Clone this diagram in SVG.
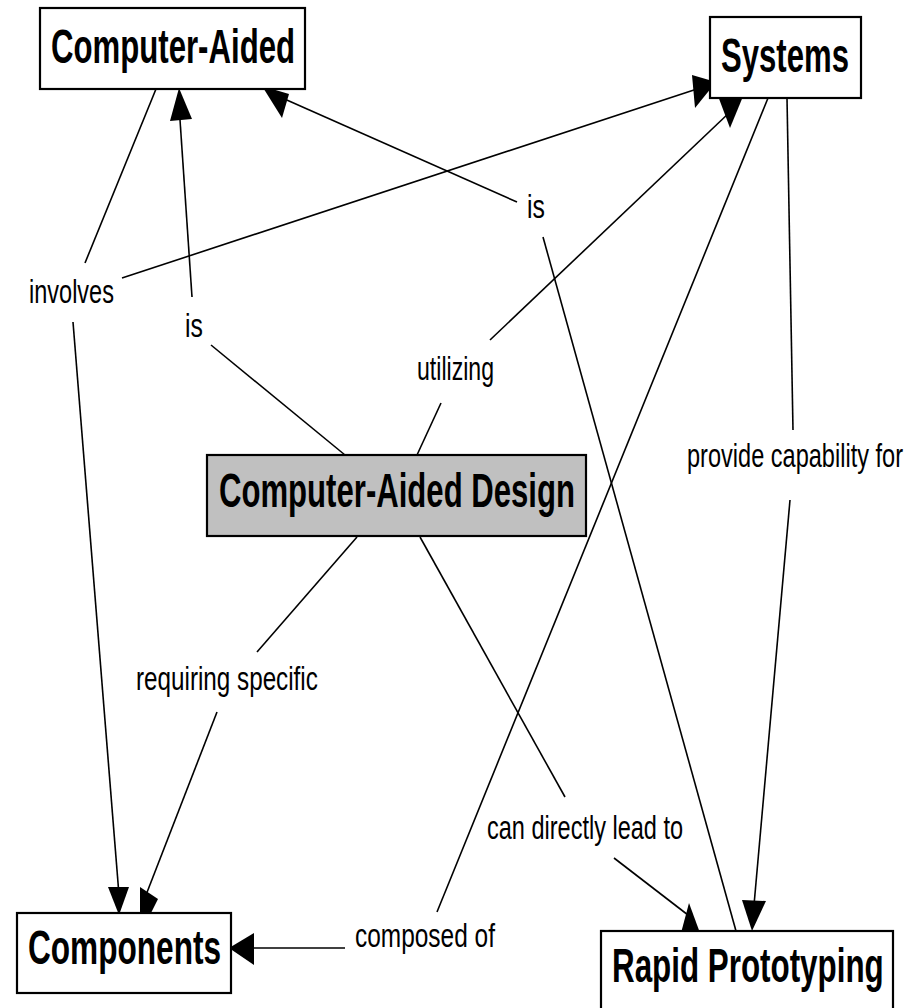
<svg xmlns="http://www.w3.org/2000/svg" width="913" height="1008" viewBox="0 0 913 1008">
<style>
.ln{stroke:#000;stroke-width:1.6;fill:none}
.ah{fill:#000;stroke:none}
.box{fill:#fff;stroke:#000;stroke-width:2.2}
.main{fill:#c0c0c0}
.cn{font-family:"Liberation Sans",Arial,sans-serif;font-weight:bold;font-size:49px;fill:#000}
.lp{font-family:"Liberation Sans",Arial,sans-serif;font-size:33px;fill:#000}
</style>
<rect width="913" height="1008" fill="#fff"/>

<!-- links, drawn under the concept boxes so arrow tips tuck beneath them -->
<g id="connectors">
  <path class="ln" d="M156,89 L85,263"/>
  <path class="ln" d="M73,322 L119,895"/>
  <path class="ln" d="M122,278 L700,88"/>
  <path class="ln" d="M345,455 L211,345"/>
  <path class="ln" d="M192,297 L179,105"/>
  <path class="ln" d="M417,455 L441,403"/>
  <path class="ln" d="M490,340 L730,112"/>
  <path class="ln" d="M357,537 L257,652"/>
  <path class="ln" d="M217,712 L146,895"/>
  <path class="ln" d="M420,537 L565,797"/>
  <path class="ln" d="M614,858 L688,915"/>
  <path class="ln" d="M736,931 L543,237"/>
  <path class="ln" d="M517,202 L280,97"/>
  <path class="ln" d="M787,98 L793,430"/>
  <path class="ln" d="M790,500 L754,905"/>
  <path class="ln" d="M768,98 L437,912"/>
  <path class="ln" d="M345,948 L250,948"/>
  <!-- arrowheads -->
  <polygon class="ah" points="170,121 179,88 192,119"/>
  <polygon class="ah" points="262,86 289,94 282,118"/>
  <polygon class="ah" points="692,75 716,82 695,108"/>
  <polygon class="ah" points="718,96 744,94 730,128"/>
  <polygon class="ah" points="108,887 129,887 119,915"/>
  <polygon class="ah" points="140,887 158,899 150,915 140,915"/>
  <polygon class="ah" points="229,948 254,933 254,965"/>
  <polygon class="ah" points="681,933 689,903 700,933"/>
  <polygon class="ah" points="742,900 766,901 752,931"/>
</g>

<!-- concepts (type is condensed horizontally) -->
<g id="computer-aided">
  <rect class="box" x="40" y="8" width="265" height="81"/>
  <text class="cn" transform="translate(51,63) scale(0.636,1)">Computer-Aided</text>
</g>
<g id="systems">
  <rect class="box" x="710" y="17" width="151" height="81"/>
  <text class="cn" transform="translate(721,72) scale(0.635,1)">Systems</text>
</g>
<g id="computer-aided-design">
  <rect class="box main" x="207" y="455" width="379" height="81"/>
  <text class="cn" transform="translate(219,507) scale(0.635,1)">Computer-Aided Design</text>
</g>
<g id="components">
  <rect class="box" x="17" y="913" width="214" height="80"/>
  <text class="cn" transform="translate(28,964) scale(0.645,1)">Components</text>
</g>
<g id="rapid-prototyping">
  <rect class="box" x="601" y="931" width="292" height="95"/>
  <text class="cn" transform="translate(612,982) scale(0.64,1)">Rapid Prototyping</text>
</g>

<!-- linking phrases -->
<g id="lp-involves"><text class="lp" transform="translate(29,303) scale(0.713,1)">involves</text></g>
<g id="lp-is-left"><text class="lp" transform="translate(185,337) scale(0.75,1)">is</text></g>
<g id="lp-is-top"><text class="lp" transform="translate(527,218) scale(0.75,1)">is</text></g>
<g id="lp-utilizing"><text class="lp" transform="translate(417,380) scale(0.70,1)">utilizing</text></g>
<g id="lp-provide"><text class="lp" transform="translate(687,467) scale(0.714,1)">provide capability for</text></g>
<g id="lp-requiring"><text class="lp" transform="translate(136,690) scale(0.735,1)">requiring specific</text></g>
<g id="lp-lead-to"><text class="lp" transform="translate(487,839) scale(0.713,1)">can directly lead to</text></g>
<g id="lp-composed"><text class="lp" transform="translate(355,947) scale(0.741,1)">composed of</text></g>
</svg>
